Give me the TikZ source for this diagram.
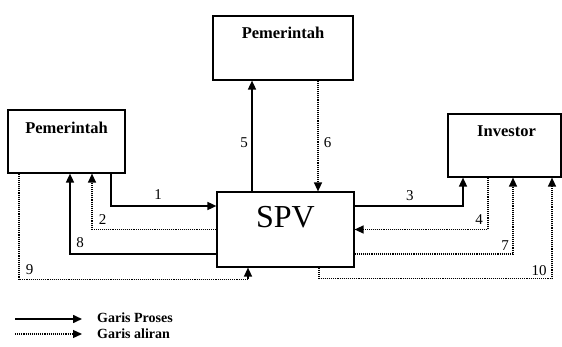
\documentclass[tikz,border=0pt]{standalone}
\usepackage{fontspec}
\setmainfont{Liberation Serif}
\usetikzlibrary{positioning, arrows.meta}

\begin{document}
\begin{tikzpicture}[x=1pt, y=-1pt,
    % kotak dan judul di dalamnya
    box/.style={draw, rectangle, line width=1.2pt, inner sep=0pt},
    title/.style={anchor=north, font=\fontsize{16.5}{18}\selectfont\bfseries},
    % dua jenis garis
    proses/.style={line width=1.6pt, -{Triangle[length=9pt, width=8pt]}},
    aliran/.style={line width=1.3pt, dash pattern=on 1.1pt off 1pt, -{Triangle[length=9pt, width=8pt]}},
    num/.style={font=\fontsize{15}{16}\selectfont, inner sep=1pt},
    legend/.style={anchor=west, align=left, inner sep=1pt, font=\fontsize{14}{15.5}\selectfont\bfseries}
]

\useasboundingbox (0,0) rectangle (562,347);

% Kotak
\node[box, minimum width=117pt, minimum height=63pt,
      label={[title, yshift=-9pt]north:Pemerintah}] (lgov) at (66.5,141.5) {};
\node[box, minimum width=140pt, minimum height=64pt,
      label={[title, yshift=-8.5pt]north:Pemerintah}] (tgov) at (283,48) {};
\node[box, minimum width=137pt, minimum height=75pt,
      label={[anchor=north, yshift=-11pt, font=\fontsize{32}{34}\selectfont]north:SPV}] (spv) at (285.5,229.5) {};
\node[box, minimum width=113pt, minimum height=63pt,
      label={[title, xshift=2pt, yshift=-9pt]north:Investor}] (inv) at (504.5,145.5) {};

% Pemerintah (kiri) <-> SPV
\draw[proses] ([xshift=44.5pt]lgov.south) |- node[num, pos=0.724, yshift=11.5pt] {1} ([yshift=23.5pt]spv.west);
\draw[aliran] (spv.west) -| node[num, pos=0.5, xshift=10.5pt, yshift=10pt] {2} ([xshift=25.5pt]lgov.south);
\draw[proses] ([yshift=-24.5pt]spv.west) -| node[num, pos=0.5, xshift=10pt, yshift=11.5pt] {8} ([xshift=3.5pt]lgov.south);
\draw[aliran] ([xshift=-47.5pt]lgov.south) -- ++(0,106) node[num, xshift=10.5pt, yshift=10pt] {9} -| ([xshift=-37.5pt]spv.south);

% Pemerintah (atas) <-> SPV
\draw[proses] ([xshift=-33.5pt]spv.north) -- node[num, pos=0.44, xshift=-8pt] {5} ([xshift=-33.5pt]spv.north |- tgov.south);
\draw[aliran] ([xshift=35pt]tgov.south) -- node[num, pos=0.56, xshift=9.5pt] {6} ([xshift=35pt]tgov.south |- spv.north);

% SPV <-> Investor
\draw[proses] ([yshift=23.5pt]spv.east) -| node[num, pos=0.255, yshift=10pt] {3} ([xshift=-41.5pt]inv.south);
\draw[aliran] ([xshift=-16.5pt]inv.south) |- node[num, pos=0.5, xshift=-9pt, yshift=9.5pt] {4} (spv.east);
\draw[aliran] ([yshift=-24.5pt]spv.east) -| node[num, pos=0.5, xshift=-8pt, yshift=8pt] {7} ([xshift=8.5pt]inv.south);
\draw[aliran] ([xshift=33.5pt]spv.south) -- ++(0,11) -| node[num, pos=0.5, xshift=-13pt, yshift=8.5pt] {10} ([xshift=47.5pt]inv.south);

% Keterangan
\node[legend] (legend) at (96,325.9) {Garis Proses\\Garis aliran};
\coordinate (lp) at (15,319);
\draw[proses] (lp) -- ([xshift=-14pt, yshift=6.9pt]legend.west);
\coordinate (la) at (15,334);
\draw[aliran] (la) -- ([xshift=-14pt, yshift=-8.1pt]legend.west);

\end{tikzpicture}
\end{document}
